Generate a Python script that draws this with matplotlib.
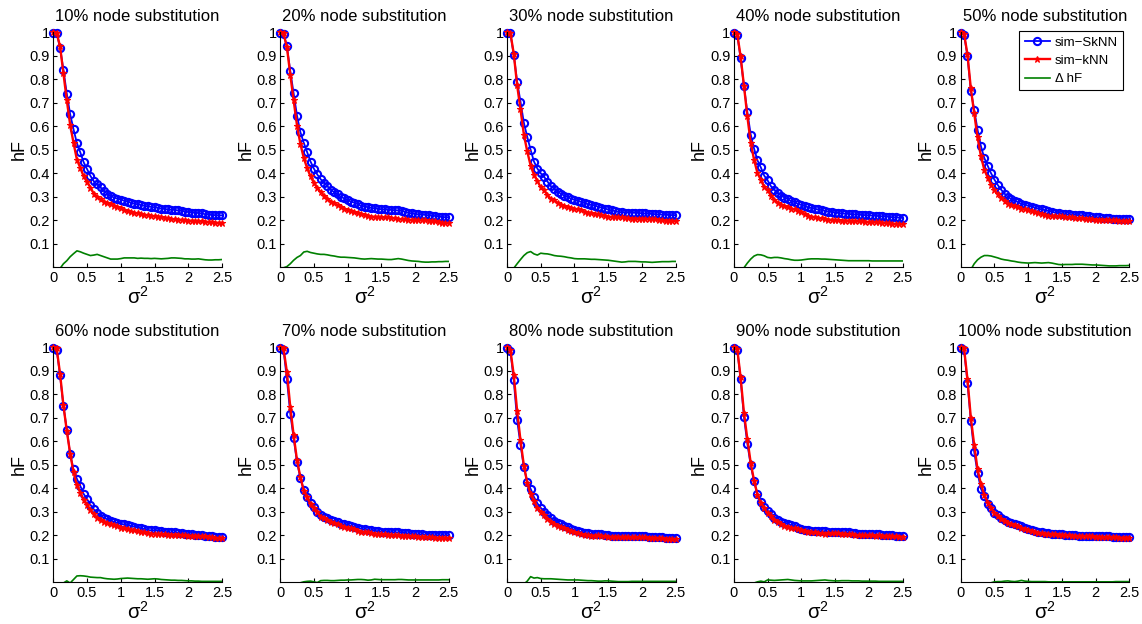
import matplotlib
matplotlib.use("Agg")
import matplotlib.pyplot as plt
import numpy as np

plt.rcParams["font.family"] = ["Liberation Sans", "DejaVu Sans"]
plt.rcParams["mathtext.fontset"] = "custom"
plt.rcParams["mathtext.rm"] = "Liberation Sans"

# noise variance grid
sigma2 = np.linspace(0.0, 2.5, 51)

substitution_pct = [10, 20, 30, 40, 50, 60, 70, 80, 90, 100]

sknn_10 = [0.999, 0.995, 0.935, 0.840, 0.739, 0.651, 0.587, 0.528, 0.489, 0.447, 0.418, 0.389, 0.366, 0.353, 0.340, 0.325, 0.312, 0.303, 0.297, 0.292, 0.288,
           0.283, 0.279, 0.275, 0.271, 0.268, 0.265, 0.262, 0.259, 0.257, 0.255, 0.253, 0.250, 0.248, 0.246, 0.245, 0.244, 0.242, 0.240, 0.237, 0.235,
           0.233, 0.232, 0.231, 0.229, 0.226, 0.224, 0.223, 0.222, 0.221, 0.221]
knn_10 = [1.000, 0.998, 0.940, 0.825, 0.711, 0.606, 0.529, 0.458, 0.423, 0.387, 0.363, 0.339, 0.314, 0.298, 0.290, 0.280, 0.272, 0.268, 0.262, 0.257, 0.251,
          0.243, 0.239, 0.235, 0.231, 0.230, 0.226, 0.224, 0.221, 0.220, 0.217, 0.216, 0.214, 0.211, 0.208, 0.205, 0.204, 0.203, 0.202, 0.201, 0.199,
          0.198, 0.197, 0.195, 0.195, 0.194, 0.193, 0.192, 0.190, 0.189, 0.188]

sknn_20 = [0.998, 0.993, 0.940, 0.835, 0.740, 0.645, 0.575, 0.530, 0.490, 0.450, 0.420, 0.395, 0.375, 0.360, 0.345, 0.330, 0.320, 0.310, 0.300, 0.293, 0.285,
           0.280, 0.275, 0.268, 0.262, 0.258, 0.256, 0.253, 0.251, 0.249, 0.247, 0.246, 0.245, 0.244, 0.243, 0.242, 0.240, 0.236, 0.232, 0.229, 0.227,
           0.225, 0.224, 0.223, 0.221, 0.220, 0.218, 0.216, 0.214, 0.213, 0.213]
knn_20 = [1.000, 0.995, 0.937, 0.820, 0.710, 0.603, 0.525, 0.465, 0.422, 0.387, 0.360, 0.338, 0.320, 0.305, 0.292, 0.280, 0.272, 0.265, 0.257, 0.250, 0.243,
          0.239, 0.235, 0.230, 0.226, 0.223, 0.220, 0.216, 0.215, 0.214, 0.212, 0.212, 0.212, 0.211, 0.208, 0.205, 0.205, 0.204, 0.203, 0.202, 0.201,
          0.200, 0.201, 0.201, 0.199, 0.197, 0.195, 0.192, 0.190, 0.188, 0.188]

sknn_30 = [0.999, 0.995, 0.905, 0.790, 0.705, 0.615, 0.555, 0.500, 0.450, 0.420, 0.400, 0.385, 0.365, 0.345, 0.335, 0.322, 0.313, 0.305, 0.298, 0.292, 0.287,
           0.282, 0.278, 0.273, 0.268, 0.265, 0.262, 0.258, 0.254, 0.250, 0.246, 0.242, 0.239, 0.236, 0.234, 0.233, 0.233, 0.232, 0.232, 0.231, 0.230,
           0.229, 0.228, 0.227, 0.226, 0.225, 0.224, 0.223, 0.223, 0.222, 0.222]
knn_30 = [1.000, 0.998, 0.909, 0.775, 0.672, 0.565, 0.493, 0.433, 0.393, 0.368, 0.340, 0.327, 0.308, 0.291, 0.285, 0.274, 0.266, 0.260, 0.256, 0.252, 0.250,
          0.246, 0.242, 0.237, 0.233, 0.231, 0.228, 0.225, 0.222, 0.219, 0.216, 0.214, 0.213, 0.212, 0.212, 0.210, 0.208, 0.207, 0.207, 0.207, 0.207,
          0.206, 0.206, 0.206, 0.204, 0.202, 0.200, 0.199, 0.199, 0.197, 0.197]

sknn_40 = [0.999, 0.990, 0.890, 0.770, 0.660, 0.565, 0.505, 0.455, 0.425, 0.390, 0.370, 0.345, 0.330, 0.317, 0.305, 0.297, 0.290, 0.282, 0.277, 0.270, 0.265,
           0.260, 0.255, 0.252, 0.249, 0.246, 0.243, 0.240, 0.237, 0.235, 0.233, 0.231, 0.229, 0.228, 0.227, 0.226, 0.225, 0.224, 0.223, 0.222, 0.221,
           0.220, 0.219, 0.218, 0.217, 0.216, 0.215, 0.213, 0.212, 0.211, 0.210]
knn_40 = [1.000, 0.994, 0.898, 0.772, 0.642, 0.530, 0.457, 0.401, 0.372, 0.341, 0.328, 0.305, 0.288, 0.275, 0.265, 0.260, 0.255, 0.250, 0.247, 0.240, 0.234,
          0.227, 0.220, 0.216, 0.213, 0.210, 0.208, 0.205, 0.203, 0.202, 0.201, 0.200, 0.199, 0.199, 0.199, 0.198, 0.197, 0.196, 0.195, 0.194, 0.193,
          0.193, 0.192, 0.191, 0.190, 0.189, 0.188, 0.186, 0.185, 0.184, 0.183]

sknn_50 = [0.999, 0.990, 0.900, 0.752, 0.670, 0.585, 0.515, 0.465, 0.432, 0.400, 0.373, 0.350, 0.330, 0.313, 0.300, 0.290, 0.284, 0.277, 0.270, 0.265, 0.262,
           0.258, 0.254, 0.250, 0.246, 0.243, 0.240, 0.236, 0.233, 0.230, 0.228, 0.226, 0.225, 0.224, 0.223, 0.222, 0.221, 0.219, 0.217, 0.215, 0.213,
           0.212, 0.211, 0.210, 0.208, 0.207, 0.206, 0.205, 0.205, 0.204, 0.204]
knn_50 = [1.000, 0.994, 0.906, 0.762, 0.655, 0.553, 0.472, 0.415, 0.382, 0.352, 0.329, 0.310, 0.295, 0.281, 0.270, 0.263, 0.259, 0.255, 0.250, 0.246, 0.244,
          0.239, 0.234, 0.231, 0.228, 0.224, 0.220, 0.218, 0.218, 0.218, 0.217, 0.214, 0.213, 0.212, 0.210, 0.209, 0.208, 0.207, 0.206, 0.205, 0.203,
          0.203, 0.203, 0.203, 0.202, 0.201, 0.200, 0.198, 0.198, 0.197, 0.196]

sknn_60 = [0.998, 0.990, 0.880, 0.750, 0.650, 0.545, 0.480, 0.440, 0.410, 0.376, 0.354, 0.330, 0.310, 0.295, 0.283, 0.275, 0.268, 0.262, 0.256, 0.252, 0.249,
           0.246, 0.243, 0.240, 0.237, 0.233, 0.230, 0.226, 0.222, 0.221, 0.221, 0.220, 0.218, 0.215, 0.213, 0.212, 0.212, 0.211, 0.209, 0.207, 0.205,
           0.204, 0.203, 0.202, 0.201, 0.199, 0.197, 0.195, 0.193, 0.192, 0.191]
knn_60 = [1.000, 0.995, 0.888, 0.753, 0.644, 0.548, 0.468, 0.413, 0.382, 0.349, 0.329, 0.308, 0.289, 0.275, 0.263, 0.258, 0.253, 0.248, 0.243, 0.238, 0.233,
          0.229, 0.225, 0.223, 0.221, 0.218, 0.215, 0.212, 0.209, 0.207, 0.206, 0.206, 0.206, 0.204, 0.203, 0.203, 0.203, 0.203, 0.201, 0.200, 0.199,
          0.198, 0.198, 0.197, 0.197, 0.195, 0.193, 0.191, 0.189, 0.188, 0.187]

sknn_70 = [0.999, 0.990, 0.865, 0.718, 0.614, 0.510, 0.445, 0.392, 0.365, 0.338, 0.319, 0.298, 0.287, 0.280, 0.272, 0.265, 0.260, 0.255, 0.250, 0.246, 0.243,
           0.240, 0.236, 0.232, 0.228, 0.225, 0.223, 0.221, 0.219, 0.217, 0.216, 0.215, 0.214, 0.213, 0.213, 0.212, 0.211, 0.210, 0.208, 0.206, 0.205,
           0.204, 0.204, 0.203, 0.202, 0.201, 0.200, 0.200, 0.200, 0.200, 0.200]
knn_70 = [1.000, 0.995, 0.895, 0.746, 0.626, 0.520, 0.447, 0.390, 0.361, 0.333, 0.317, 0.299, 0.280, 0.272, 0.264, 0.258, 0.253, 0.247, 0.241, 0.237, 0.233,
          0.230, 0.225, 0.220, 0.216, 0.214, 0.214, 0.211, 0.206, 0.205, 0.205, 0.204, 0.203, 0.202, 0.202, 0.200, 0.199, 0.199, 0.198, 0.196, 0.195,
          0.194, 0.194, 0.193, 0.192, 0.191, 0.190, 0.190, 0.189, 0.189, 0.189]

sknn_80 = [0.999, 0.985, 0.860, 0.690, 0.586, 0.489, 0.428, 0.398, 0.363, 0.336, 0.317, 0.300, 0.285, 0.272, 0.262, 0.253, 0.246, 0.240, 0.234, 0.228, 0.223,
           0.218, 0.213, 0.210, 0.208, 0.206, 0.205, 0.205, 0.204, 0.202, 0.200, 0.199, 0.198, 0.197, 0.196, 0.196, 0.196, 0.196, 0.196, 0.196, 0.196,
           0.195, 0.194, 0.194, 0.193, 0.192, 0.191, 0.190, 0.189, 0.188, 0.188]
knn_80 = [1.000, 0.990, 0.882, 0.730, 0.604, 0.497, 0.423, 0.374, 0.345, 0.316, 0.301, 0.285, 0.270, 0.257, 0.248, 0.240, 0.234, 0.229, 0.224, 0.218, 0.213,
          0.208, 0.204, 0.202, 0.201, 0.199, 0.199, 0.200, 0.199, 0.196, 0.194, 0.194, 0.194, 0.194, 0.193, 0.193, 0.193, 0.192, 0.192, 0.192, 0.192,
          0.191, 0.190, 0.190, 0.189, 0.188, 0.187, 0.186, 0.185, 0.184, 0.184]

sknn_90 = [0.999, 0.990, 0.865, 0.703, 0.590, 0.498, 0.429, 0.375, 0.343, 0.319, 0.303, 0.290, 0.275, 0.265, 0.258, 0.252, 0.248, 0.243, 0.238, 0.233, 0.228,
           0.224, 0.222, 0.220, 0.219, 0.218, 0.217, 0.217, 0.216, 0.215, 0.214, 0.214, 0.214, 0.213, 0.212, 0.210, 0.208, 0.207, 0.206, 0.205, 0.205,
           0.205, 0.204, 0.204, 0.203, 0.202, 0.201, 0.200, 0.199, 0.198, 0.198]
knn_90 = [1.000, 0.994, 0.873, 0.721, 0.610, 0.508, 0.432, 0.373, 0.338, 0.317, 0.293, 0.281, 0.267, 0.256, 0.248, 0.241, 0.236, 0.233, 0.230, 0.226, 0.222,
          0.218, 0.216, 0.214, 0.212, 0.210, 0.208, 0.207, 0.208, 0.208, 0.208, 0.208, 0.207, 0.206, 0.205, 0.204, 0.202, 0.201, 0.201, 0.200, 0.200,
          0.200, 0.199, 0.200, 0.199, 0.198, 0.197, 0.196, 0.195, 0.194, 0.194]

sknn_100 = [0.999, 0.990, 0.850, 0.688, 0.555, 0.465, 0.398, 0.367, 0.333, 0.315, 0.297, 0.285, 0.273, 0.265, 0.258, 0.252, 0.247, 0.243, 0.238, 0.233, 0.228,
            0.223, 0.218, 0.214, 0.212, 0.210, 0.208, 0.207, 0.206, 0.205, 0.204, 0.203, 0.202, 0.201, 0.200, 0.199, 0.198, 0.198, 0.197, 0.197, 0.196,
            0.196, 0.195, 0.195, 0.195, 0.194, 0.194, 0.193, 0.193, 0.193, 0.193]
knn_100 = [1.000, 0.995, 0.865, 0.701, 0.585, 0.480, 0.418, 0.372, 0.339, 0.317, 0.295, 0.282, 0.270, 0.260, 0.252, 0.248, 0.244, 0.238, 0.230, 0.228, 0.224,
           0.220, 0.215, 0.211, 0.209, 0.207, 0.206, 0.205, 0.204, 0.203, 0.202, 0.201, 0.200, 0.199, 0.198, 0.197, 0.196, 0.196, 0.195, 0.195, 0.194,
           0.194, 0.193, 0.193, 0.193, 0.192, 0.191, 0.190, 0.190, 0.190, 0.190]

sknn_all = [sknn_10, sknn_20, sknn_30, sknn_40, sknn_50, sknn_60, sknn_70, sknn_80, sknn_90, sknn_100]
knn_all = [knn_10, knn_20, knn_30, knn_40, knn_50, knn_60, knn_70, knn_80, knn_90, knn_100]

x_ticks = [0, 0.5, 1, 1.5, 2, 2.5]
x_ticklabels = ["0", "0.5", "1", "1.5", "2", "2.5"]
y_ticks = [0.1, 0.2, 0.3, 0.4, 0.5, 0.6, 0.7, 0.8, 0.9, 1.0]
y_ticklabels = ["0.1", "0.2", "0.3", "0.4", "0.5", "0.6", "0.7", "0.8", "0.9", "1"]

W, H = 1142, 624
fig = plt.figure(figsize=(W / 100, H / 100), dpi=100)

green = (0.0, 0.5, 0.0)
for i, pct in enumerate(substitution_pct):
    row, col = divmod(i, 5)
    left = (53.3 + 226.85 * col) / W
    bottom = (H - 267.3) / H if row == 0 else (H - 582.3) / H
    ax = fig.add_axes([left, bottom, 168.7 / W, 235.0 / H])

    sk = np.array(sknn_all[i])
    kn = np.array(knn_all[i])
    ax.plot(sigma2, sk, "-o", color="b", lw=1.3, ms=5.2, mfc="none", mew=1.5,
            clip_on=False, label="sim\u2212SkNN", zorder=3)
    ax.plot(sigma2, kn, "-*", color="r", lw=1.7, ms=5, mew=0.8,
            clip_on=False, label="sim\u2212kNN", zorder=4)
    ax.plot(sigma2, sk - kn, "-", color=green, lw=1.2, label="\u0394 hF", zorder=2)

    ax.set_xlim(0, 2.5)
    ax.set_ylim(0, 1)
    ax.spines["top"].set_visible(False)
    ax.spines["right"].set_visible(False)
    for s in ("left", "bottom"):
        ax.spines[s].set_linewidth(0.8)
        ax.spines[s].set_zorder(5)
    ax.set_xticks(x_ticks)
    ax.set_xticklabels(x_ticklabels)
    ax.set_yticks(y_ticks)
    ax.set_yticklabels(y_ticklabels)
    ax.tick_params(direction="in", length=3, width=0.8, labelsize=10.5, pad=3)
    ax.tick_params(axis="y", pad=2.5)
    ax.set_title(f"{pct}% node substitution", fontsize=12, pad=8)
    ax.set_ylabel("hF", fontsize=13)
    ax.yaxis.set_label_coords(-0.152, 0.5)
    ax.set_xlabel(r"$\mathregular{σ^2}$", fontsize=14.5, labelpad=0)

    if pct == 50:
        leg = ax.legend(loc="upper right", bbox_to_anchor=(0.964, 1.004),
                        borderaxespad=0, fontsize=9.5, frameon=True, fancybox=False,
                        edgecolor="black", framealpha=1, handlelength=1.9,
                        handletextpad=0.4, labelspacing=0.45, borderpad=0.4)
        leg.get_frame().set_linewidth(0.8)

fig.savefig("out.png", dpi=100)
